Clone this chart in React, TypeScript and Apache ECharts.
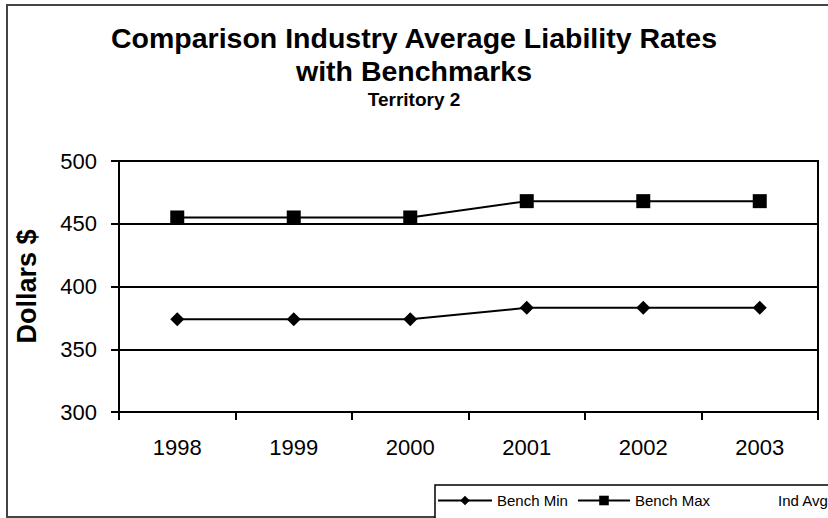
import React, { useEffect, useRef } from "react";
import * as echarts from "echarts";

const years = ["1998", "1999", "2000", "2001", "2002", "2003"];
const benchMin = [374, 374, 374, 383, 383, 383];
const benchMax = [455, 455, 455, 468, 468, 468];
const indAvg: number[] = [];
const yTicks = { min: 300, max: 500, interval: 50 };

const FONT = "'Liberation Sans', Arial, sans-serif";

export default function App() {
  const ref = useRef<HTMLDivElement>(null);
  useEffect(() => {
    if (!ref.current) return;
    const chart = echarts.init(ref.current, undefined, { renderer: "svg" });
    const legendText = { fontSize: 15, color: "#000", fontFamily: FONT };
    chart.setOption({
      animation: false,
      backgroundColor: "#fff",
      textStyle: { fontFamily: FONT },
      title: {
        text: "Comparison Industry Average Liability Rates\nwith Benchmarks",
        subtext: "Territory 2",
        left: "center",
        top: 21,
        padding: 0,
        itemGap: 1,
        textStyle: { fontSize: 28.5, fontWeight: "bold", color: "#000", lineHeight: 33, fontFamily: FONT },
        subtextStyle: { fontSize: 19, fontWeight: "bold", color: "#000", lineHeight: 22, fontFamily: FONT },
      },
      graphic: [
        {
          type: "rect",
          z: 0,
          shape: { x: 7, y: 5, width: 840, height: 512 },
          style: { fill: "none", stroke: "#444", lineWidth: 2 },
        },
        {
          type: "rect",
          z: 1,
          shape: { x: 435, y: 485, width: 420, height: 40 },
          style: { fill: "#fff", stroke: "#000", lineWidth: 1.5 },
        },
      ],
      legend: [
        {
          left: 437, top: 493, padding: 0, itemWidth: 54, itemHeight: 12,
          data: ["Bench Min"], textStyle: legendText, z: 5,
        },
        {
          left: 577, top: 493, padding: 0, itemWidth: 52, itemHeight: 12,
          data: ["Bench Max"], textStyle: legendText, z: 5,
        },
        {
          left: 720, top: 493, padding: 0, itemWidth: 52, itemHeight: 12,
          data: ["Ind Avg"], textStyle: legendText, z: 5,
        },
      ],
      grid: { left: 119, right: 10, top: 161, bottom: 106, show: true, borderColor: "#000", borderWidth: 2 },
      xAxis: {
        type: "category",
        data: years,
        boundaryGap: true,
        axisLine: { lineStyle: { color: "#000", width: 2 } },
        axisTick: { show: true, length: 8, inside: false, lineStyle: { color: "#000", width: 2 } },
        axisLabel: { fontSize: 22, color: "#000", margin: 24, fontFamily: FONT },
        splitLine: { show: false },
      },
      yAxis: {
        type: "value",
        min: yTicks.min,
        max: yTicks.max,
        interval: yTicks.interval,
        name: "Dollars $",
        nameLocation: "middle",
        nameRotate: 90,
        nameGap: 79,
        nameTextStyle: { fontSize: 27, fontWeight: "bold", color: "#000", fontFamily: FONT },
        axisLine: { show: true, lineStyle: { color: "#000", width: 2 } },
        axisTick: { show: true, length: 8, lineStyle: { color: "#000", width: 2 } },
        axisLabel: { fontSize: 22, color: "#000", margin: 22, fontFamily: FONT },
        splitLine: { show: true, lineStyle: { color: "#000", width: 2 } },
      },
      series: [
        {
          name: "Bench Min",
          type: "line",
          data: benchMin,
          symbol: "diamond",
          symbolSize: 14,
          color: "#000",
          lineStyle: { color: "#000", width: 2 },
          itemStyle: { color: "#000" },
        },
        {
          name: "Bench Max",
          type: "line",
          data: benchMax,
          symbol: "rect",
          symbolSize: 14,
          color: "#000",
          lineStyle: { color: "#000", width: 2 },
          itemStyle: { color: "#000" },
        },
        {
          name: "Ind Avg",
          type: "line",
          data: indAvg,
          symbol: "none",
          color: "rgba(0,0,0,0)",
          lineStyle: { color: "rgba(0,0,0,0)", width: 2 },
          itemStyle: { color: "rgba(0,0,0,0)" },
        },
      ],
    });
    return () => chart.dispose();
  }, []);
  return (
    <div
      ref={ref}
      style={{ position: "fixed", left: 0, top: 0, width: 828, height: 518, background: "#fff" }}
    />
  );
}
